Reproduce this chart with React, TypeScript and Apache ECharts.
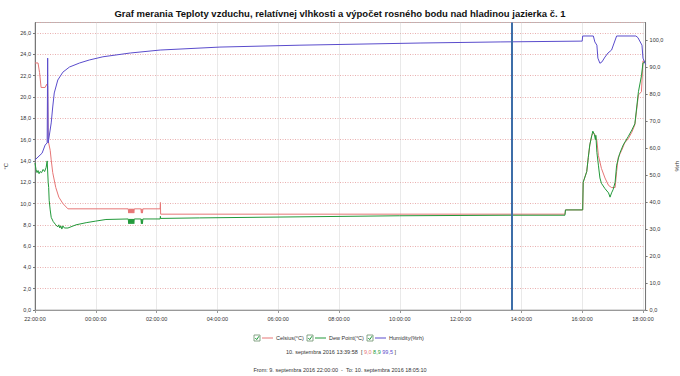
import React, { useEffect, useRef } from "react";
import * as echarts from "echarts";

const chartTitle =
  "Graf merania Teploty vzduchu, relatívnej vlhkosti a výpočet rosného bodu nad hladinou jazierka č. 1";
const leftAxisName = "°C";
const rightAxisName = "%rh";
const seriesNames = ["Celsius(°C)", "Dew Point(°C)", "Humidity(%rh)"];
const startTime = "22:00:00";
const endTime = "18:05:10";
const cursorTime = "13:39:58";
const cursorLabel = "10. septembra 2016 13:39:58";
const cursorValues = ["9,0", "8,9", "99,5"];
const rangeText = "From: 9. septembra 2016 22:00:00  -  To: 10. septembra 2016 18:05:10";

const celsiusTimes = [
  "22:00", "22:06", "22:09", "22:12", "22:20", "22:23", "22:25", "22:26", "22:30", "22:32",
  "22:35", "22:41", "22:47", "22:55", "23:05", "01:04",
  "01:05", "01:06", "01:07", "01:08", "01:09", "01:10", "01:11", "01:12", "01:13", "01:14", "01:15", "01:16",
  "01:29", "01:30", "01:31", "01:32", "01:33",
  "02:07", "02:07:30", "02:08", "15:26", "15:27", "16:01",
  "16:02", "16:09", "16:12", "16:15", "16:19", "16:22", "16:25", "16:29", "16:32", "16:38",
  "16:45", "16:52", "16:58", "17:05", "17:08", "17:11", "17:18", "17:24", "17:31", "17:38",
  "17:44", "17:51", "17:57", "18:00", "18:05:10",
];
const celsiusValues = [
  23.2, 23.2, 22.3, 20.9, 20.9, 21.2, 21.0, 15.9, 15.0, 14.1,
  12.9, 11.5, 10.6, 10.0, 9.5, 9.5,
  9.1, 9.5, 9.1, 9.5, 9.1, 9.5, 9.1, 9.5, 9.1, 9.5, 9.1, 9.5,
  9.5, 9.1, 9.5, 9.1, 9.5,
  9.5, 10.1, 9.0, 9.0, 9.4, 9.4,
  12.0, 13.0, 14.3, 15.5, 16.4, 16.6, 16.5, 15.9, 14.5, 13.3,
  12.4, 11.7, 11.5, 11.5, 13.0, 14.3, 15.0, 15.7, 16.1, 16.7,
  17.4, 20.2, 20.5, 23.4, 23.2,
];

const dewTimes = [
  "22:00", "22:02", "22:04", "22:06", "22:08", "22:10", "22:13", "22:16", "22:19", "22:22",
  "22:24", "22:26", "22:27", "22:28", "22:30", "22:32", "22:36", "22:41", "22:45", "22:47",
  "22:49", "22:51", "22:53", "22:55", "22:58", "23:05", "23:21", "23:41", "00:00", "00:20", "01:04",
  "01:05", "01:06", "01:07", "01:08", "01:09", "01:10", "01:11", "01:12", "01:13", "01:14", "01:15", "01:16",
  "01:29", "01:30", "01:31", "01:32", "01:33",
  "02:07", "02:07:30", "02:08", "03:25", "06:43", "10:00", "13:40", "15:26", "15:27", "16:01",
  "16:02", "16:09", "16:12", "16:15", "16:19", "16:21", "16:24", "16:26", "16:27", "16:29",
  "16:32", "16:35", "16:38", "16:45", "16:52", "16:55", "16:58", "17:01", "17:05", "17:08",
  "17:14", "17:21", "17:31", "17:38", "17:44", "17:51", "17:57", "18:00", "18:05:10",
];
const dewValues = [
  13.8, 13.2, 12.9, 13.1, 12.8, 13.0, 12.9, 13.2, 13.0, 13.4,
  14.0, 12.0, 11.5, 10.3, 9.4, 8.7, 8.3, 8.0, 7.8, 8.0,
  7.7, 7.9, 7.6, 7.9, 7.7, 7.7, 8.0, 8.2, 8.35, 8.5, 8.55,
  8.1, 8.55, 8.1, 8.55, 8.1, 8.55, 8.1, 8.55, 8.1, 8.55, 8.1, 8.55,
  8.55, 8.1, 8.55, 8.1, 8.55,
  8.55, 8.8, 8.6, 8.65, 8.75, 8.85, 8.9, 8.9, 9.4, 9.4,
  12.0, 13.0, 14.3, 15.5, 16.4, 16.8, 16.5, 16.0, 16.4, 14.8,
  13.6, 12.4, 11.9, 11.4, 11.0, 10.6, 11.0, 11.3, 12.0, 13.6,
  14.7, 15.5, 16.3, 16.9, 17.5, 20.5, 22.0, 23.2, 23.3,
];

const humidityTimes = [
  "22:00", "22:14", "22:20", "22:24", "22:25", "22:26", "22:32", "22:35", "22:38", "22:45",
  "22:55", "23:08", "23:28", "23:47", "00:14", "01:08", "02:07", "04:05", "06:43", "10:40",
  "13:18", "15:56", "16:00", "16:01", "16:22", "16:25", "16:29", "16:31", "16:35", "16:39",
  "16:45", "16:51", "16:58", "17:03", "17:08", "17:46", "17:50", "17:58", "18:00", "18:05:10",
];
const humidityValues = [
  55.6, 58.1, 61.1, 61.9, 93.3, 61.9, 69.3, 75.2, 80.4, 85.2,
  88.1, 90.0, 91.5, 92.6, 93.8, 95.2, 96.3, 97.4, 98.1, 98.9,
  99.3, 99.6, 99.6, 101.5, 101.5, 99.3, 98.1, 93.3, 91.4, 91.9,
  93.7, 95.2, 96.3, 98.9, 101.5, 101.5, 100.9, 98.1, 93.3, 91.0,
];

const colors = { celsius: "#e67676", dew: "#22993a", humidity: "#5a4ccc", cursor: "#3d6ea8" };
const FONT = "Liberation Sans";

function toHours(t: string): number {
  const p = t.split(":").map(Number);
  let v = p[0] + (p[1] || 0) / 60 + (p[2] || 0) / 3600 - 22;
  if (v < 0) v += 24;
  return v;
}
const pad = (n: number) => (n < 10 ? "0" + n : "" + n);
const comma = (v: number) => v.toFixed(1).replace(".", ",");
const zip = (ts: string[], vs: number[]) => ts.map((t, i) => [toHours(t), vs[i]]);

export default function App() {
  const ref = useRef<HTMLDivElement>(null);
  useEffect(() => {
    if (!ref.current) return;
    const chart = echarts.init(ref.current, undefined, { renderer: "svg" });
    const xMin = toHours(startTime);
    const xMax = toHours(endTime);
    const checkbox = (x: number, y: number) => ({
      type: "group",
      x,
      y,
      children: [
        { type: "rect", shape: { x: 0, y: 0, width: 6, height: 6 }, style: { fill: "#fff", stroke: "#6a8f6a", lineWidth: 0.8 } },
        { type: "polyline", shape: { points: [[1.3, 3], [2.7, 4.6], [5, 1.2]] }, style: { stroke: "#1f9a3c", lineWidth: 1, fill: null } },
      ],
    });
    const legendItem = (x: number, color: string, label: string) => [
      checkbox(x, 335),
      { type: "line", shape: { x1: x + 8, y1: 338, x2: x + 19, y2: 338 }, style: { stroke: color, lineWidth: 1 } },
      { type: "text", x: x + 22, y: 338, style: { text: label, fontSize: 5.5, fontFamily: FONT, fill: "#333", verticalAlign: "middle" } },
    ];
    chart.setOption({
      animation: false,
      backgroundColor: "#fff",
      title: {
        text: chartTitle,
        left: "center",
        top: 3,
        textStyle: { fontSize: 9.5, fontWeight: "bold", fontFamily: FONT, color: "#111" },
      },
      grid: {
        left: 35,
        right: 34.4,
        top: 22.5,
        bottom: 66,
        containLabel: false,
        outerBoundsMode: "none",
        show: true,
        borderColor: "#b8b8b8",
        borderWidth: 1,
      },
      xAxis: {
        type: "value",
        min: xMin,
        max: xMax,
        interval: 2,
        axisLine: { lineStyle: { color: "#999" } },
        axisTick: { show: true, length: 3, lineStyle: { color: "#999" } },
        axisLabel: {
          showMaxLabel: false,
          fontSize: 5.5,
          fontFamily: FONT,
          color: "#333",
          margin: 6,
          formatter: (v: number) => pad((22 + Math.round(v)) % 24) + ":00:00",
        },
        splitLine: { show: true, lineStyle: { color: "#c8c8c8", type: [1, 1], width: 0.8 } },
      },
      yAxis: [
        {
          type: "value",
          min: 0,
          max: 27,
          interval: 2,
          name: leftAxisName,
          nameLocation: "middle",
          nameGap: 24,
          nameRotate: 90,
          nameTextStyle: { fontSize: 6, fontFamily: FONT, color: "#333" },
          axisLine: { show: true, lineStyle: { color: "#777" } },
          axisTick: { show: true, length: 2, lineStyle: { color: "#777" } },
          axisLabel: { showMaxLabel: false, fontSize: 5.5, fontFamily: FONT, color: "#333", margin: 4, formatter: comma },
          splitLine: { show: true, lineStyle: { color: "#e39a9a", type: [1, 1.5], width: 0.8 } },
        },
        {
          type: "value",
          min: 0,
          max: 106.5,
          interval: 10,
          name: rightAxisName,
          nameLocation: "middle",
          nameGap: 22,
          nameRotate: 90,
          nameTextStyle: { fontSize: 6, fontFamily: FONT, color: "#333" },
          axisLine: { show: true, lineStyle: { color: "#777" } },
          axisTick: { show: true, length: 2, lineStyle: { color: "#777" } },
          axisLabel: { showMaxLabel: false, fontSize: 5.5, fontFamily: FONT, color: "#333", margin: 4, formatter: comma },
          splitLine: { show: false },
        },
      ],
      series: [
        {
          name: seriesNames[0],
          type: "line",
          yAxisIndex: 0,
          data: zip(celsiusTimes, celsiusValues),
          showSymbol: false,
          lineStyle: { color: colors.celsius, width: 1 },
          itemStyle: { color: colors.celsius },
          markLine: {
            silent: true,
            symbol: "none",
            label: { show: false },
            lineStyle: { color: colors.cursor, width: 2, type: "solid" },
            data: [{ xAxis: toHours(cursorTime) }],
          },
        },
        {
          name: seriesNames[1],
          type: "line",
          yAxisIndex: 0,
          data: zip(dewTimes, dewValues),
          showSymbol: false,
          lineStyle: { color: colors.dew, width: 1 },
          itemStyle: { color: colors.dew },
        },
        {
          name: seriesNames[2],
          type: "line",
          yAxisIndex: 1,
          data: zip(humidityTimes, humidityValues),
          showSymbol: false,
          lineStyle: { color: colors.humidity, width: 1 },
          itemStyle: { color: colors.humidity },
        },
      ],
      graphic: [
        ...legendItem(254, colors.celsius, seriesNames[0]),
        ...legendItem(307, colors.dew, seriesNames[1]),
        ...legendItem(367, colors.humidity, seriesNames[2]),
        {
          type: "text",
          x: 341,
          y: 352,
          style: {
            text: `${cursorLabel}  [ {r|${cursorValues[0]}} {g|${cursorValues[1]}} {b|${cursorValues[2]}} ]`,
            fontSize: 5.5,
            fontFamily: FONT,
            fill: "#333",
            align: "center",
            verticalAlign: "middle",
            rich: {
              r: { fill: colors.celsius, fontSize: 5.5, fontFamily: FONT },
              g: { fill: colors.dew, fontSize: 5.5, fontFamily: FONT },
              b: { fill: colors.humidity, fontSize: 5.5, fontFamily: FONT },
            },
          },
        },
        {
          type: "text",
          x: 340,
          y: 370,
          style: { text: rangeText, fontSize: 5.5, fontFamily: FONT, fill: "#333", align: "center", verticalAlign: "middle" },
        },
      ],
    });
    return () => chart.dispose();
  }, []);
  return <div ref={ref} style={{ width: 680, height: 376, position: "absolute", left: 0, top: 0 }} />;
}
